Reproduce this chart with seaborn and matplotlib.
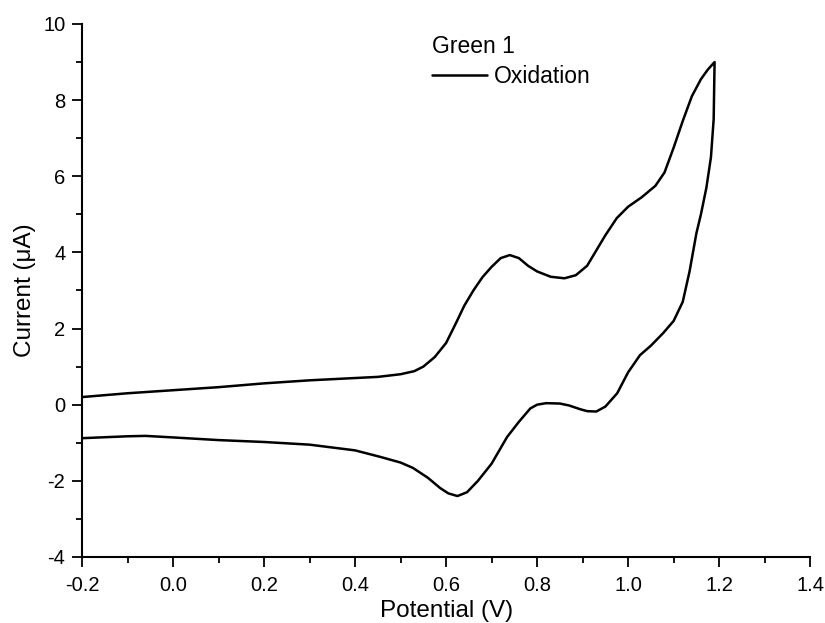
import matplotlib
matplotlib.use("Agg")
import matplotlib.pyplot as plt
import seaborn as sns
import pandas as pd
from matplotlib.ticker import MultipleLocator

potential_fwd = [-0.2, -0.1, 0.0, 0.1, 0.2, 0.3, 0.4, 0.45, 0.5, 0.53, 0.55, 0.575, 0.60, 0.62, 0.64,
                 0.66, 0.68, 0.70, 0.72, 0.74, 0.76, 0.78, 0.80, 0.83, 0.86, 0.885, 0.91, 0.93, 0.95,
                 0.975, 1.00, 1.03, 1.06, 1.08, 1.10, 1.12, 1.14, 1.16, 1.175, 1.19]
current_fwd = [0.20, 0.30, 0.38, 0.46, 0.56, 0.64, 0.70, 0.73, 0.80, 0.88, 1.00, 1.25, 1.62, 2.10, 2.60,
               3.00, 3.35, 3.62, 3.85, 3.93, 3.85, 3.65, 3.50, 3.36, 3.32, 3.40, 3.65, 4.05, 4.45,
               4.90, 5.20, 5.45, 5.75, 6.10, 6.75, 7.45, 8.10, 8.55, 8.80, 9.00]
potential_rev = [1.188, 1.182, 1.172, 1.16, 1.15, 1.135, 1.12, 1.10, 1.077, 1.05, 1.026, 1.00,
                 0.976, 0.95, 0.93, 0.91, 0.895, 0.87, 0.85, 0.82, 0.80, 0.785, 0.76, 0.734,
                 0.70, 0.67, 0.646, 0.625, 0.605, 0.587, 0.56, 0.527, 0.5, 0.455, 0.4, 0.3,
                 0.2, 0.1, 0.0, -0.06, -0.1, -0.2]
current_rev = [7.5, 6.5, 5.7, 5.0, 4.5, 3.5, 2.7, 2.2, 1.88, 1.55, 1.30, 0.85,
               0.30, -0.05, -0.18, -0.17, -0.12, -0.02, 0.03, 0.04, 0.00, -0.10, -0.45, -0.85,
               -1.55, -2.00, -2.30, -2.40, -2.33, -2.19, -1.92, -1.66, -1.52, -1.37, -1.20, -1.05,
               -0.98, -0.93, -0.86, -0.82, -0.83, -0.88]

x_ticks = [-0.2, 0.0, 0.2, 0.4, 0.6, 0.8, 1.0, 1.2, 1.4]
y_ticks = [-4, -2, 0, 2, 4, 6, 8, 10]

df = pd.DataFrame({
    "Potential": potential_fwd + potential_rev,
    "Current": current_fwd + current_rev,
    "series": ["Oxidation"] * (len(potential_fwd) + len(potential_rev)),
})

sns.set_style("ticks")
plt.rcParams["font.family"] = ["Liberation Sans", "DejaVu Sans"]
plt.rcParams["text.color"] = "black"
plt.rcParams["axes.labelcolor"] = "black"
plt.rcParams["xtick.color"] = "black"
plt.rcParams["ytick.color"] = "black"

fig = plt.figure(figsize=(8.25, 6.23), dpi=100)
ax = fig.add_axes([0.0994, 0.106, 0.8826, 0.8555])

sns.lineplot(data=df, x="Potential", y="Current", hue="series", palette=["black"],
             sort=False, estimator=None, linewidth=1.8, ax=ax)

ax.set_xlim(-0.2, 1.4)
ax.set_ylim(-4, 10)
ax.set_xticks(x_ticks)
ax.set_xticklabels([f"{v:.1f}" for v in x_ticks])
ax.set_yticks(y_ticks)
ax.set_yticklabels([str(v) for v in y_ticks])
ax.xaxis.set_minor_locator(MultipleLocator(0.1))
ax.yaxis.set_minor_locator(MultipleLocator(1))
ax.tick_params(which="major", direction="out", length=7, width=1.3, pad=5,
               labelsize=14.5, colors="black")
ax.tick_params(axis="x", which="major", pad=7)
ax.tick_params(which="minor", direction="out", length=4.5, width=1.3, colors="black")
for s in ["top", "right"]:
    ax.spines[s].set_visible(False)
for s in ["left", "bottom"]:
    ax.spines[s].set_linewidth(1.5)
    ax.spines[s].set_color("black")

ax.set_xlabel("Potential (V)", fontsize=17.5, labelpad=3, color="black")
ax.set_ylabel("Current (\u03bcA)", fontsize=17.5, labelpad=5, color="black")

leg = ax.legend(title="Green 1", loc="upper left", bbox_to_anchor=(0.4808, 0.979),
                frameon=False, fontsize=16.5, title_fontsize=16.5, handlelength=2.4,
                handletextpad=0.3, borderaxespad=0.0, borderpad=0.0, labelspacing=0.28)
leg._legend_box.align = "left"
leg.get_title().set_color("black")
for t in leg.get_texts():
    t.set_color("black")
for line in leg.get_lines():
    line.set_linewidth(1.8)

fig.savefig("out.png", dpi=100)
